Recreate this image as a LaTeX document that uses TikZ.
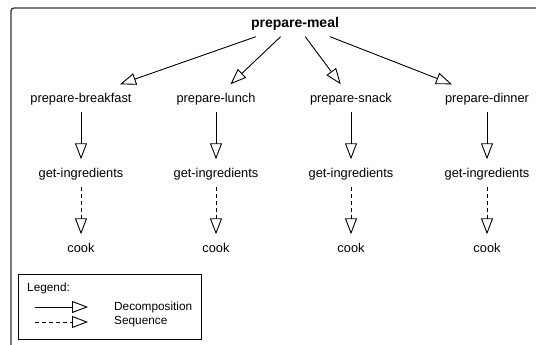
\documentclass[tikz,border=0pt]{standalone}
\usepackage{fontspec}
\setmainfont{Liberation Sans}
\usetikzlibrary{arrows.meta}

\begin{document}
\begin{tikzpicture}[x=1pt,y=-1pt,
    task/.style={inner sep=0pt, minimum height=27pt, text height=9.2pt, text depth=0pt,
        font=\fontsize{12.8}{15}\selectfont},
    root/.style={task, font=\fontsize{14}{16}\selectfont\bfseries},
    key/.style={anchor=west, inner sep=0pt, font=\fontsize{11.8}{14}\selectfont},
    decomp/.style={line width=0.9pt, -{Triangle[open,length=16pt,width=12pt,line width=0.9pt]}},
    sequence/.style={decomp, dash pattern=on 4pt off 3pt}]
    \useasboundingbox (0,0) rectangle (536,345);
    % outer frame, cut by the page
    \draw[line width=1.3pt, draw=black!80, rounded corners=3pt] (11,360) -- (11,8) -- (560,8);

    \node[root] (meal) at (295,23) {prepare-meal};
    % one column per meal
    \foreach \name/\x/\lbl in {breakfast/81/prepare-breakfast, lunch/216/prepare-lunch,
        snack/351/prepare-snack, dinner/487/prepare-dinner} {
        \node[task] (\name) at (\x,98) {\lbl};
        \node[task] (\name-get) at (\x,173) {get-ingredients};
        \node[task] (\name-cook) at (\x,248) {cook};
        \draw[decomp] (meal) -- (\name);
        \draw[decomp] (\name) -- (\name-get);
        \draw[sequence] (\name-get) -- (\name-cook);
    }

    % legend
    \draw[line width=0.9pt] (18,274) rectangle (201,339);
    \node[key] (legend) at (27,288) {Legend:};
    \coordinate (decomp-from) at (35,307);
    \coordinate (decomp-to) at (88,307);
    \draw[decomp] (decomp-from) -- (decomp-to);
    \node[key] (decomp-text) at (114,307) {Decomposition};
    \coordinate (seq-from) at (35,322);
    \coordinate (seq-to) at (88,322);
    \draw[sequence] (seq-from) -- (seq-to);
    \node[key] (seq-text) at (114,322) {Sequence};
\end{tikzpicture}
\end{document}
